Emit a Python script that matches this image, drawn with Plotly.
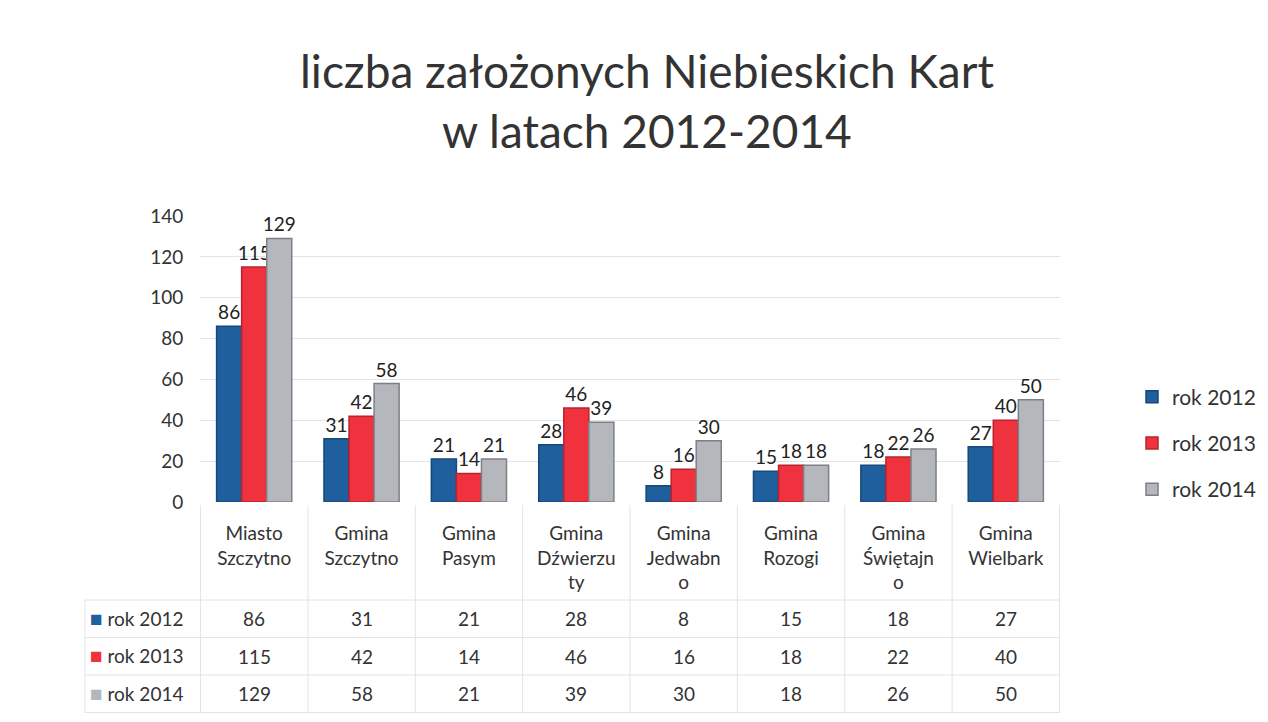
import plotly.graph_objects as go

categories = ["Miasto Szczytno", "Gmina Szczytno", "Gmina Pasym", "Gmina Dźwierzuty",
              "Gmina Jedwabno", "Gmina Rozogi", "Gmina Świętajno", "Gmina Wielbark"]
tick_labels = ["Miasto<br>Szczytno", "Gmina<br>Szczytno", "Gmina<br>Pasym", "Gmina<br>Dźwierzu<br>ty",
               "Gmina<br>Jedwabn<br>o", "Gmina<br>Rozogi", "Gmina<br>Świętajn<br>o", "Gmina<br>Wielbark"]
series_names = ["rok 2012", "rok 2013", "rok 2014"]
v2012 = [86, 31, 21, 28, 8, 15, 18, 27]
v2013 = [115, 42, 14, 46, 16, 18, 22, 40]
v2014 = [129, 58, 21, 39, 30, 18, 26, 50]
series_values = [v2012, v2013, v2014]
colors = ["#1f5f9e", "#f0323e", "#b4b7bc"]
side_colors = ["#16487a", "#b8242e", "#7d8085"]
y_ticks = [0, 20, 40, 60, 80, 100, 120, 140]
title_text = "liczba założonych Niebieskich Kart<br>w latach 2012-2014"

W, H = 1268, 722
FONT = "Lato"
TXT = "#333"
GRID = "#e2e4e8"


def px_x(p):
    return p / W


def px_y(p):
    return 1 - p / H


fig = go.Figure()
for name, vals, c, sc in zip(series_names, series_values, colors, side_colors):
    fig.add_trace(go.Bar(
        name=name, x=categories, y=vals,
        marker=dict(color=c, line=dict(color=sc, width=1.5)),
        text=[str(v) for v in vals], textposition="outside", cliponaxis=False,
        constraintext="none",
        textfont=dict(size=19, color="#222", family=FONT),
        legendgroup=name,
    ))

# ---- data table under the chart (built on the category axis) ----
table_left, table_right = 85, 1060
row_tops = [600, 637.5, 675, 712.5]
shapes = []
for yy in row_tops:
    shapes.append(dict(type="line", xref="paper", yref="paper",
                       x0=px_x(table_left), x1=px_x(table_right), y0=px_y(yy), y1=px_y(yy),
                       line=dict(color=GRID, width=1)))
for i in range(len(categories) + 1):
    shapes.append(dict(type="line", xref="x", yref="paper",
                       x0=i - 0.5, x1=i - 0.5, y0=px_y(505), y1=px_y(712.5),
                       line=dict(color=GRID, width=1)))
shapes.append(dict(type="line", xref="paper", yref="paper",
                   x0=px_x(table_left), x1=px_x(table_left), y0=px_y(600), y1=px_y(712.5),
                   line=dict(color=GRID, width=1)))

annotations = []
for r, (name, vals, c) in enumerate(zip(series_names, series_values, colors)):
    yc = (row_tops[r] + row_tops[r + 1]) / 2
    annotations.append(dict(
        text=f"<span style='color:{c};font-size:21px'>■</span> {name}", xref="paper", yref="paper",
        x=px_x(88), y=px_y(yc - 1.5), xanchor="left", yanchor="middle", showarrow=False,
        font=dict(size=19, color=TXT, family=FONT)))
    for i, v in enumerate(vals):
        annotations.append(dict(
            text=str(v), xref="x", yref="paper", x=i, y=px_y(yc),
            xanchor="center", yanchor="middle", showarrow=False,
            font=dict(size=19, color=TXT, family=FONT)))

annotations.append(dict(
    text=title_text, xref="paper", yref="paper", x=px_x(647), y=px_y(100),
    xanchor="center", yanchor="middle", showarrow=False,
    font=dict(size=46, color=TXT, family=FONT)))

fig.update_layout(
    width=W, height=H, margin=dict(l=0, r=0, t=0, b=0, autoexpand=False),
    paper_bgcolor="white", plot_bgcolor="white",
    barmode="group", bargap=0.3, bargroupgap=0,
    xaxis=dict(domain=[px_x(200), px_x(1060)], tickvals=categories, ticktext=tick_labels,
               tickfont=dict(size=19, color=TXT, family=FONT), automargin=False,
               ticks="outside", ticklen=14, tickcolor="rgba(0,0,0,0)",
               showgrid=False, zeroline=False, showline=False),
    yaxis=dict(domain=[px_y(502), px_y(216)], range=[0, 140], tickvals=y_ticks,
               showgrid=True, gridcolor=GRID, gridwidth=1, zeroline=False, automargin=False,
               tickfont=dict(size=19, color=TXT, family=FONT),
               ticks="outside", ticklen=12, tickcolor="rgba(0,0,0,0)"),
    legend=dict(x=px_x(1132), y=px_y(443), xanchor="left", yanchor="middle",
                font=dict(size=21, color=TXT, family=FONT), tracegroupgap=16,
                itemwidth=30, bgcolor="rgba(0,0,0,0)"),
    shapes=shapes, annotations=annotations,
    showlegend=True,
)

fig.write_html("out.html")
